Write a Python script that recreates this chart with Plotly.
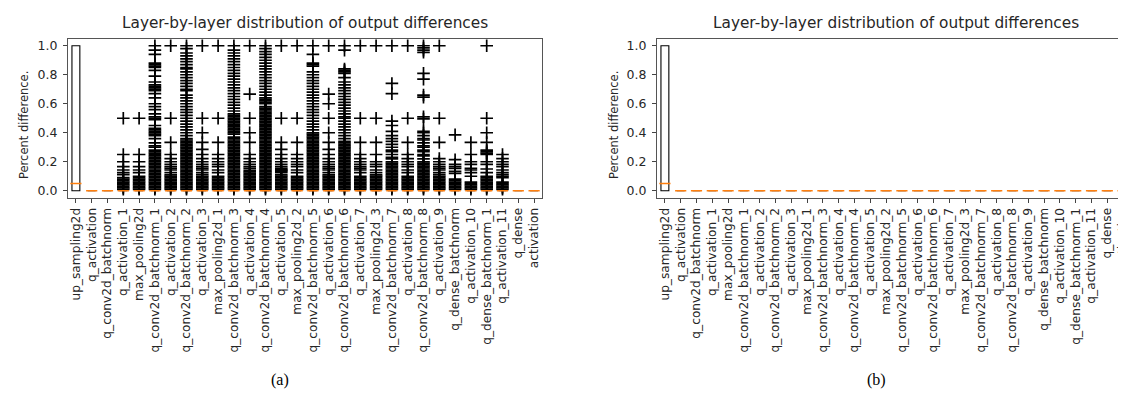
import plotly.graph_objects as go

layers = ["up_sampling2d", "q_activation", "q_conv2d_batchnorm", "q_activation_1", "max_pooling2d",
          "q_conv2d_batchnorm_1", "q_activation_2", "q_conv2d_batchnorm_2", "q_activation_3", "max_pooling2d_1",
          "q_conv2d_batchnorm_3", "q_activation_4", "q_conv2d_batchnorm_4", "q_activation_5", "max_pooling2d_2",
          "q_conv2d_batchnorm_5", "q_activation_6", "q_conv2d_batchnorm_6", "q_activation_7", "max_pooling2d_3",
          "q_conv2d_batchnorm_7", "q_activation_8", "q_conv2d_batchnorm_8", "q_activation_9", "q_dense_batchnorm",
          "q_activation_10", "q_dense_batchnorm_1", "q_activation_11", "q_dense", "activation"]

# box statistics (same in both panels)
q1_vals = [0.0, 0.0, 0.0, 0.0, 0.0, 0.0, 0.0, 0.0, 0.0, 0.0, 0.0, 0.0, 0.0, 0.0, 0.0,
           0.0, 0.0, 0.0, 0.0, 0.0, 0.0, 0.0, 0.0, 0.0, 0.0, 0.0, 0.0, 0.0, 0.0, 0.0]
median_vals = [0.05, 0.0, 0.0, 0.0, 0.0, 0.0, 0.0, 0.0, 0.0, 0.0, 0.0, 0.0, 0.0, 0.0, 0.0,
               0.0, 0.0, 0.0, 0.0, 0.0, 0.0, 0.0, 0.0, 0.0, 0.0, 0.0, 0.0, 0.0, 0.0, 0.0]
q3_vals = [1.0, 0.0, 0.0, 0.0, 0.0, 0.0, 0.0, 0.0, 0.0, 0.0, 0.0, 0.0, 0.0, 0.0, 0.0,
           0.0, 0.0, 0.0, 0.0, 0.0, 0.0, 0.0, 0.0, 0.0, 0.0, 0.0, 0.0, 0.0, 0.0, 0.0]
low_whisker = [0.0, 0.0, 0.0, 0.0, 0.0, 0.0, 0.0, 0.0, 0.0, 0.0, 0.0, 0.0, 0.0, 0.0, 0.0,
               0.0, 0.0, 0.0, 0.0, 0.0, 0.0, 0.0, 0.0, 0.0, 0.0, 0.0, 0.0, 0.0, 0.0, 0.0]
high_whisker = [1.0, 0.0, 0.0, 0.0, 0.0, 0.0, 0.0, 0.0, 0.0, 0.0, 0.0, 0.0, 0.0, 0.0, 0.0,
                0.0, 0.0, 0.0, 0.0, 0.0, 0.0, 0.0, 0.0, 0.0, 0.0, 0.0, 0.0, 0.0, 0.0, 0.0]

# outliers of panel (a), one list per layer
fl_up_sampling2d = []
fl_q_activation = []
fl_q_conv2d_batchnorm = []
fl_q_activation_1 = [0.5, 0.25, 0.2, 0.167, 0.143, 0.125, 0.111, 0.09, 0.08, 0.07, 0.06, 0.05, 0.04, 0.03, 0.02, 0.01]
fl_max_pooling2d = [0.5, 0.25, 0.2, 0.167, 0.143, 0.125, 0.1, 0.09, 0.08, 0.07, 0.06, 0.05, 0.04, 0.03, 0.02, 0.01]
fl_q_conv2d_batchnorm_1 = [1.0, 0.97, 0.94, 0.88, 0.87, 0.86, 0.85, 0.83, 0.79, 0.75, 0.73, 0.72, 0.71, 0.7, 0.69,
                           0.67, 0.64, 0.6, 0.58, 0.56, 0.53, 0.51, 0.5, 0.49, 0.45, 0.43, 0.42, 0.41, 0.4, 0.39,
                           0.38, 0.36, 0.33, 0.31, 0.3, 0.28, 0.27, 0.26, 0.25, 0.24, 0.23, 0.22, 0.21, 0.2, 0.19,
                           0.18, 0.17, 0.16, 0.15, 0.14, 0.13, 0.12, 0.11, 0.1, 0.09, 0.08, 0.07, 0.06, 0.05, 0.04,
                           0.03, 0.02, 0.01]
fl_q_activation_2 = [1.0, 0.5, 0.333, 0.25, 0.222, 0.2, 0.182, 0.167, 0.154, 0.143, 0.125, 0.11, 0.1, 0.09, 0.08,
                     0.07, 0.06, 0.05, 0.04, 0.03, 0.02, 0.01]
fl_q_conv2d_batchnorm_2 = [1.0, 0.98, 0.95, 0.93, 0.91, 0.89, 0.87, 0.85, 0.84, 0.82, 0.8, 0.78, 0.76, 0.74, 0.72,
                           0.7, 0.69, 0.66, 0.64, 0.62, 0.6, 0.58, 0.56, 0.54, 0.52, 0.5, 0.48, 0.46, 0.44, 0.42,
                           0.4, 0.38, 0.36, 0.35, 0.34, 0.33, 0.32, 0.31, 0.3, 0.29, 0.28, 0.27, 0.26, 0.25, 0.24,
                           0.23, 0.22, 0.21, 0.2, 0.19, 0.18, 0.17, 0.16, 0.15, 0.14, 0.13, 0.12, 0.11, 0.1, 0.09,
                           0.08, 0.07, 0.06, 0.05, 0.04, 0.03, 0.02, 0.01]
fl_q_activation_3 = [1.0, 0.5, 0.4, 0.333, 0.286, 0.25, 0.222, 0.2, 0.182, 0.167, 0.154, 0.143, 0.125, 0.111, 0.1,
                     0.09, 0.08, 0.07, 0.06, 0.05, 0.04, 0.03, 0.02, 0.01]
fl_max_pooling2d_1 = [1.0, 0.5, 0.333, 0.25, 0.222, 0.2, 0.182, 0.167, 0.143, 0.125, 0.1, 0.09, 0.08, 0.07, 0.06,
                      0.05, 0.04, 0.03, 0.02, 0.01]
fl_q_conv2d_batchnorm_3 = [1.0, 0.97, 0.95, 0.93, 0.91, 0.89, 0.87, 0.85, 0.83, 0.81, 0.79, 0.77, 0.75, 0.73, 0.71,
                           0.69, 0.67, 0.65, 0.63, 0.61, 0.59, 0.57, 0.55, 0.53, 0.52, 0.51, 0.5, 0.49, 0.48, 0.47,
                           0.46, 0.45, 0.44, 0.43, 0.42, 0.41, 0.4, 0.39, 0.37, 0.36, 0.35, 0.34, 0.33, 0.32, 0.31,
                           0.3, 0.29, 0.28, 0.27, 0.26, 0.25, 0.24, 0.23, 0.22, 0.21, 0.2, 0.19, 0.18, 0.17, 0.16,
                           0.15, 0.14, 0.13, 0.12, 0.11, 0.1, 0.09, 0.08, 0.07, 0.06, 0.05, 0.04, 0.03, 0.02, 0.01]
fl_q_activation_4 = [1.0, 0.667, 0.5, 0.4, 0.333, 0.25, 0.222, 0.2, 0.182, 0.167, 0.154, 0.14, 0.13, 0.12, 0.11,
                     0.1, 0.09, 0.08, 0.07, 0.06, 0.05, 0.04, 0.03, 0.02, 0.01]
fl_q_conv2d_batchnorm_4 = [1.0, 0.98, 0.96, 0.94, 0.92, 0.9, 0.88, 0.86, 0.84, 0.82, 0.8, 0.78, 0.76, 0.74, 0.72,
                           0.7, 0.68, 0.66, 0.64, 0.63, 0.62, 0.61, 0.6, 0.58, 0.57, 0.56, 0.55, 0.54, 0.53, 0.52,
                           0.51, 0.5, 0.49, 0.48, 0.47, 0.46, 0.45, 0.44, 0.43, 0.42, 0.41, 0.4, 0.39, 0.38, 0.37,
                           0.36, 0.35, 0.34, 0.33, 0.32, 0.31, 0.3, 0.29, 0.28, 0.27, 0.26, 0.25, 0.24, 0.23, 0.22,
                           0.21, 0.2, 0.19, 0.18, 0.17, 0.16, 0.15, 0.14, 0.13, 0.12, 0.11, 0.1, 0.09, 0.08, 0.07,
                           0.06, 0.05, 0.04, 0.03, 0.02, 0.01]
fl_q_activation_5 = [1.0, 0.5, 0.333, 0.286, 0.25, 0.222, 0.2, 0.182, 0.167, 0.154, 0.145, 0.14, 0.133, 0.125, 0.11,
                     0.1, 0.09, 0.08, 0.07, 0.06, 0.05, 0.04, 0.03, 0.02, 0.01]
fl_max_pooling2d_2 = [1.0, 0.5, 0.333, 0.25, 0.222, 0.2, 0.182, 0.167, 0.143, 0.125, 0.1, 0.09, 0.08, 0.07, 0.06,
                      0.05, 0.04, 0.03, 0.02, 0.01]
fl_q_conv2d_batchnorm_5 = [1.0, 0.94, 0.88, 0.87, 0.86, 0.82, 0.8, 0.78, 0.76, 0.74, 0.72, 0.7, 0.68, 0.66, 0.64,
                           0.62, 0.6, 0.58, 0.56, 0.54, 0.52, 0.5, 0.48, 0.46, 0.44, 0.42, 0.4, 0.39, 0.38, 0.37,
                           0.36, 0.35, 0.34, 0.33, 0.32, 0.31, 0.3, 0.29, 0.28, 0.27, 0.26, 0.25, 0.24, 0.23, 0.22,
                           0.21, 0.2, 0.19, 0.18, 0.17, 0.16, 0.15, 0.14, 0.13, 0.12, 0.11, 0.1, 0.09, 0.08, 0.07,
                           0.06, 0.05, 0.04, 0.03, 0.02, 0.01]
fl_q_activation_6 = [1.0, 0.667, 0.6, 0.5, 0.4, 0.333, 0.286, 0.25, 0.222, 0.2, 0.182, 0.167, 0.154, 0.143, 0.125,
                     0.11, 0.1, 0.09, 0.08, 0.07, 0.06, 0.05, 0.04, 0.03, 0.02, 0.01]
fl_q_conv2d_batchnorm_6 = [1.0, 0.97, 0.84, 0.83, 0.82, 0.81, 0.78, 0.75, 0.73, 0.71, 0.69, 0.67, 0.65, 0.63, 0.61,
                           0.59, 0.57, 0.55, 0.53, 0.51, 0.5, 0.48, 0.46, 0.44, 0.42, 0.4, 0.38, 0.36, 0.34, 0.33,
                           0.32, 0.31, 0.3, 0.29, 0.28, 0.27, 0.26, 0.25, 0.24, 0.23, 0.22, 0.21, 0.2, 0.19, 0.18,
                           0.17, 0.16, 0.15, 0.14, 0.13, 0.12, 0.11, 0.1, 0.09, 0.08, 0.07, 0.06, 0.05, 0.04, 0.03,
                           0.02, 0.01]
fl_q_activation_7 = [1.0, 0.5, 0.333, 0.25, 0.222, 0.2, 0.182, 0.167, 0.154, 0.143, 0.125, 0.1, 0.09, 0.08, 0.07,
                     0.06, 0.05, 0.04, 0.03, 0.02, 0.01]
fl_max_pooling2d_3 = [1.0, 0.5, 0.333, 0.25, 0.2, 0.182, 0.167, 0.143, 0.125, 0.11, 0.1, 0.09, 0.08, 0.07, 0.06,
                      0.05, 0.04, 0.03, 0.02, 0.01]
fl_q_conv2d_batchnorm_7 = [1.0, 0.74, 0.67, 0.48, 0.45, 0.41, 0.38, 0.36, 0.34, 0.32, 0.3, 0.28, 0.27, 0.25, 0.23,
                           0.22, 0.2, 0.19, 0.18, 0.17, 0.16, 0.15, 0.14, 0.13, 0.12, 0.11, 0.1, 0.09, 0.08, 0.07,
                           0.06, 0.05, 0.04, 0.03, 0.02, 0.01]
fl_q_activation_8 = [1.0, 0.5, 0.333, 0.25, 0.222, 0.2, 0.182, 0.167, 0.143, 0.125, 0.1, 0.09, 0.08, 0.07, 0.06,
                     0.05, 0.04, 0.03, 0.02, 0.01]
fl_q_conv2d_batchnorm_8 = [1.0, 0.985, 0.97, 0.955, 0.81, 0.77, 0.66, 0.645, 0.51, 0.495, 0.41, 0.4, 0.38, 0.36, 0.35,
                           0.33, 0.31, 0.3, 0.28, 0.27, 0.25, 0.24, 0.22, 0.2, 0.19, 0.18, 0.17, 0.16, 0.15, 0.14,
                           0.13, 0.12, 0.11, 0.1, 0.09, 0.08, 0.07, 0.06, 0.05, 0.04, 0.03, 0.02, 0.01]
fl_q_activation_9 = [1.0, 0.5, 0.333, 0.222, 0.2, 0.182, 0.167, 0.154, 0.143, 0.125, 0.111, 0.1, 0.09, 0.08, 0.07,
                     0.06, 0.05, 0.04, 0.03, 0.02, 0.01]
fl_q_dense_batchnorm = [0.385, 0.214, 0.182, 0.167, 0.154, 0.133, 0.12, 0.08, 0.07, 0.06, 0.05, 0.04, 0.03, 0.02, 0.01]
fl_q_activation_10 = [0.333, 0.25, 0.2, 0.182, 0.154, 0.143, 0.125, 0.1, 0.06, 0.05, 0.04, 0.03, 0.02, 0.01]
fl_q_dense_batchnorm_1 = [1.0, 0.5, 0.4, 0.333, 0.28, 0.27, 0.26, 0.25, 0.2, 0.182, 0.15, 0.125, 0.1, 0.09, 0.08,
                          0.07, 0.06, 0.05, 0.04, 0.03, 0.02, 0.01]
fl_q_activation_11 = [0.25, 0.222, 0.2, 0.182, 0.167, 0.143, 0.125, 0.111, 0.1, 0.09, 0.06, 0.05, 0.04, 0.03, 0.02, 0.01]
fl_q_dense = []
fl_activation = []

fliers_a = [fl_up_sampling2d, fl_q_activation, fl_q_conv2d_batchnorm, fl_q_activation_1, fl_max_pooling2d,
            fl_q_conv2d_batchnorm_1, fl_q_activation_2, fl_q_conv2d_batchnorm_2, fl_q_activation_3, fl_max_pooling2d_1,
            fl_q_conv2d_batchnorm_3, fl_q_activation_4, fl_q_conv2d_batchnorm_4, fl_q_activation_5, fl_max_pooling2d_2,
            fl_q_conv2d_batchnorm_5, fl_q_activation_6, fl_q_conv2d_batchnorm_6, fl_q_activation_7, fl_max_pooling2d_3,
            fl_q_conv2d_batchnorm_7, fl_q_activation_8, fl_q_conv2d_batchnorm_8, fl_q_activation_9, fl_q_dense_batchnorm,
            fl_q_activation_10, fl_q_dense_batchnorm_1, fl_q_activation_11, fl_q_dense, fl_activation]

y_ticks = [0.0, 0.2, 0.4, 0.6, 0.8, 1.0]
title_text = "Layer-by-layer distribution of output differences"
ylabel_text = "Percent difference."

W, H = 1126, 402
FONT = "DejaVu Sans"
TXT = "#262626"
ORANGE = "#ff7f0e"

fig = go.Figure()


def add_panel(xa, ya, fliers):
    fig.add_trace(go.Box(
        x=layers, q1=q1_vals, median=median_vals, q3=q3_vals,
        lowerfence=low_whisker, upperfence=high_whisker,
        boxpoints=False, width=0.5, whiskerwidth=0.5,
        line=dict(color="black", width=1.1), fillcolor="rgba(0,0,0,0)",
        xaxis=xa, yaxis=ya, showlegend=False, hoverinfo="skip"))
    if fliers is not None:
        fx, fy = [], []
        for name, vals in zip(layers, fliers):
            for v in vals:
                fx.append(name)
                fy.append(v)
        fig.add_trace(go.Scatter(
            x=fx, y=fy, mode="markers", xaxis=xa, yaxis=ya, showlegend=False, hoverinfo="skip",
            marker=dict(symbol="cross-thin", size=9, color="black", line=dict(color="black", width=1.7))))
    fig.add_trace(go.Scatter(
        x=layers, y=median_vals, mode="markers", xaxis=xa, yaxis=ya, showlegend=False, hoverinfo="skip",
        marker=dict(symbol="line-ew", size=8, color=ORANGE, line=dict(color=ORANGE, width=1.6))))


add_panel("x", "y", fliers_a)
add_panel("x2", "y2", None)

# pixel layout
left_a, right_a = 60.0, 534.0
left_b, right_b = 649.0, 1123.0
top_px, bot_px = 30.5, 190.0

ydom = [(H - bot_px) / H, (H - top_px) / H]

xcommon = dict(type="category", categoryorder="array", categoryarray=layers,
               tickmode="array", tickvals=layers, ticktext=layers,
               tickangle=-90, ticks="outside", ticklen=4, tickwidth=1, tickcolor="#444",
               tickfont=dict(family=FONT, size=12.2, color=TXT),
               showline=True, linecolor="#555", linewidth=1, mirror=True,
               showgrid=False, zeroline=False)
ycommon = dict(range=[-0.05, 1.05], tickvals=y_ticks, ticktext=["%.1f" % t for t in y_ticks],
               ticks="outside", ticklen=4, tickwidth=1, tickcolor="#444", ticklabelstandoff=3,
               tickfont=dict(family=FONT, size=12.5, color=TXT),
               showline=True, linecolor="#555", linewidth=1,
               showgrid=False, zeroline=False, domain=ydom)

fig.update_layout(
    width=W, height=H, margin=dict(l=0, r=0, t=0, b=0),
    paper_bgcolor="white", plot_bgcolor="white",
    xaxis=dict(xcommon, domain=[left_a / W, right_a / W], range=[-0.5, 29.5], anchor="y"),
    yaxis=dict(ycommon, mirror=True, anchor="x"),
    xaxis2=dict(xcommon, domain=[left_b / W, right_b / W], range=[-0.5, 29.5], anchor="y2"),
    yaxis2=dict(ycommon, mirror=False, anchor="x2"),
)

annotations = []
for cx in [(left_a + right_a) / 2, (left_b + right_b) / 2 + 2]:
    annotations.append(dict(text=title_text, x=cx / W, y=(H - 15) / H, xref="paper", yref="paper",
                            xanchor="center", yanchor="middle", showarrow=False,
                            font=dict(family=FONT, size=15.3, color=TXT)))
for lx in [16, 606]:
    annotations.append(dict(text=ylabel_text, x=lx / W, y=(H - 117) / H, xref="paper", yref="paper",
                            xanchor="center", yanchor="middle", showarrow=False, textangle=-90,
                            font=dict(family=FONT, size=11.5, color=TXT)))
for cap, cx in [("(a)", 272), ("(b)", 868)]:
    annotations.append(dict(text=cap, x=cx / W, y=(H - 372) / H, xref="paper", yref="paper",
                            xanchor="center", yanchor="middle", showarrow=False,
                            font=dict(family="Liberation Serif", size=16, color="black")))
fig.update_layout(annotations=annotations)

fig.write_html("out.html")
